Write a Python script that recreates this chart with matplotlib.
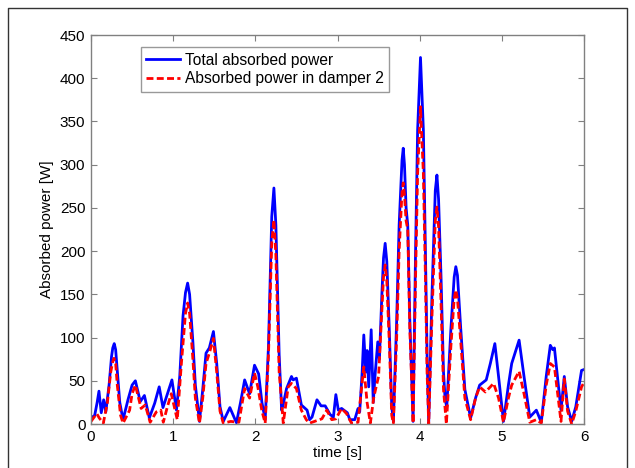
import matplotlib
matplotlib.use("Agg")
import matplotlib.pyplot as plt
from matplotlib.lines import Line2D

# --- data (time [s], power [W]) ---
t_total = [0.00, 0.045, 0.075, 0.097, 0.125, 0.154, 0.18, 0.22, 0.25, 0.265,
           0.283, 0.30, 0.32, 0.35, 0.39, 0.45, 0.50, 0.54, 0.60, 0.65,
           0.71, 0.775, 0.83, 0.876, 0.93, 0.985, 1.04, 1.08, 1.12, 1.15,
           1.176, 1.20, 1.24, 1.27, 1.32, 1.36, 1.40, 1.44, 1.49, 1.53,
           1.57, 1.61, 1.69, 1.77, 1.82, 1.87, 1.93, 1.99, 2.04, 2.08,
           2.12, 2.16, 2.20, 2.226, 2.25, 2.29, 2.32, 2.34, 2.38, 2.44,
           2.46, 2.50, 2.56, 2.63, 2.66, 2.69, 2.75, 2.80, 2.85, 2.91,
           2.95, 2.98, 3.01, 3.05, 3.12, 3.15, 3.21, 3.25, 3.27, 3.30,
           3.32, 3.345, 3.36, 3.38, 3.41, 3.435, 3.46, 3.49, 3.51, 3.54,
           3.56, 3.58, 3.60, 3.63, 3.66, 3.68, 3.72, 3.75, 3.785, 3.80,
           3.815, 3.835, 3.855, 3.88, 3.92, 3.95, 3.975, 4.01, 4.045, 4.07,
           4.09, 4.11, 4.15, 4.19, 4.21, 4.23, 4.26, 4.29, 4.31, 4.33,
           4.38, 4.42, 4.44, 4.46, 4.50, 4.55, 4.62, 4.68, 4.73, 4.81,
           4.86, 4.915, 4.96, 5.02, 5.08, 5.12, 5.21, 5.27, 5.34, 5.42,
           5.48, 5.54, 5.59, 5.62, 5.64, 5.72, 5.76, 5.80, 5.85, 5.90,
           5.97, 6.00]
p_total = [7, 10, 25, 38, 13, 28, 14, 45, 78, 88,
           93, 86, 62, 25, 5, 28, 45, 50, 26, 33,
           7, 24, 43, 19, 35, 51, 16, 55, 125, 152,
           163, 150, 95, 45, 3, 40, 82, 88, 107, 70,
           20, 3, 19, 1.5, 25, 51, 35, 68, 58, 25,
           5, 90, 240, 273, 230, 80, 16, 23, 41, 55,
           51, 53, 22, 16, 5, 8, 28, 21, 21, 11,
           8, 34, 16, 18, 13, 5, 5, 18, 14, 60,
           103, 60, 85, 43, 109, 25, 60, 95, 75, 150,
           192, 209, 188, 110, 20, 3, 120, 230, 305, 319,
           300, 250, 230, 120, 3, 200, 340, 424, 340, 200,
           80, 2, 150, 270, 288, 260, 170, 60, 28, 20,
           110, 170, 182, 172, 110, 40, 7, 30, 45, 51,
           70, 93, 55, 3, 45, 70, 97, 55, 8, 16,
           2, 55, 91, 86, 88, 16, 55, 20, 3, 20,
           62, 63]

t_damper2 = [0.00, 0.07, 0.10, 0.15, 0.20, 0.24, 0.265, 0.28, 0.30, 0.32,
             0.36, 0.39, 0.47, 0.50, 0.54, 0.61, 0.66, 0.72, 0.795, 0.85,
             0.88, 0.93, 0.977, 1.05, 1.10, 1.15, 1.176, 1.20, 1.24, 1.27,
             1.32, 1.36, 1.40, 1.44, 1.49, 1.53, 1.57, 1.61, 1.70, 1.80,
             1.87, 1.93, 1.99, 2.03, 2.08, 2.12, 2.16, 2.20, 2.226, 2.25,
             2.29, 2.34, 2.40, 2.44, 2.50, 2.56, 2.62, 2.66, 2.75, 2.81,
             2.87, 2.93, 2.98, 3.05, 3.11, 3.17, 3.25, 3.28, 3.32, 3.36,
             3.40, 3.44, 3.47, 3.50, 3.54, 3.56, 3.58, 3.60, 3.63, 3.66,
             3.68, 3.72, 3.75, 3.785, 3.80, 3.815, 3.835, 3.855, 3.88, 3.92,
             3.95, 3.975, 4.01, 4.045, 4.07, 4.09, 4.11, 4.15, 4.19, 4.21,
             4.23, 4.26, 4.29, 4.325, 4.38, 4.42, 4.44, 4.46, 4.50, 4.55,
             4.62, 4.68, 4.73, 4.80, 4.90, 4.96, 5.02, 5.08, 5.12, 5.21,
             5.27, 5.34, 5.42, 5.48, 5.54, 5.59, 5.64, 5.72, 5.76, 5.80,
             5.85, 5.90, 5.97, 6.00]
p_damper2 = [3, 12, 7, 1, 25, 60, 72, 76, 70, 45,
             10, 1, 16, 35, 45, 18, 22, 2, 14, 16,
             2, 20, 35, 5, 70, 128, 140, 128, 75, 30,
             1, 30, 70, 82, 99, 60, 15, 1, 3, 2,
             41, 30, 59, 43, 15, 1, 80, 210, 236, 195,
             60, 1, 43, 47, 41, 16, 5, 1, 4, 6,
             16, 5, 6, 18, 12, 1, 2, 30, 66, 25,
             1, 30, 43, 55, 130, 170, 184, 165, 95, 10,
             1, 100, 200, 268, 279, 265, 235, 225, 110, 1,
             170, 290, 367, 290, 170, 60, 0, 125, 235, 251,
             228, 140, 40, 0, 90, 145, 155, 145, 95, 30,
             5, 30, 43, 37, 47, 30, 2, 30, 45, 61,
             35, 2, 5, 1, 45, 70, 66, 3, 52, 15,
             0, 15, 43, 48]

x_ticks = [0, 1, 2, 3, 4, 5, 6]
y_ticks = [0, 50, 100, 150, 200, 250, 300, 350, 400, 450]

plt.rcParams["font.family"] = ["Liberation Sans", "DejaVu Sans"]

fig = plt.figure(figsize=(6.35, 4.68), dpi=100)
ax = fig.add_axes([0.1433, 0.094, 0.7764, 0.8312])

ax.plot(t_total, p_total, color="#0000ff", lw=2.0, solid_joinstyle="round",
        label="Total absorbed power")
ax.plot(t_damper2, p_damper2, color="#ff0000", lw=2.0, ls=(0, (2.5, 1.2)),
        label="Absorbed power in damper 2")

ax.set_xlim(0, 6)
ax.set_ylim(0, 450)
ax.set_xticks(x_ticks)
ax.set_yticks(y_ticks)
ax.tick_params(direction="in", top=True, right=True, length=4,
               color="#808080", labelsize=11, pad=4)
for s in ax.spines.values():
    s.set_color("#808080")
    s.set_linewidth(1.0)

ax.set_xlabel("time [s]", fontsize=11, labelpad=2)
ax.set_ylabel("Absorbed power [W]", fontsize=11, labelpad=4)

leg = ax.legend(loc="upper left", bbox_to_anchor=(0.101, 0.969),
                borderaxespad=0, fontsize=11.2, frameon=True, fancybox=False,
                edgecolor="#808080", handlelength=2.2, handletextpad=0.3,
                borderpad=0.35, labelspacing=0.25)
leg.get_frame().set_linewidth(1.0)

# outer frame of the original figure
x0, x1 = 8 / 635, 627 / 635
y1 = 1 - 8 / 468
fig.add_artist(Line2D([x0, x0, x1, x1], [0, y1, y1, 0],
                      transform=fig.transFigure, color="#333333", lw=1.0))

fig.savefig("out.png", dpi=100)
